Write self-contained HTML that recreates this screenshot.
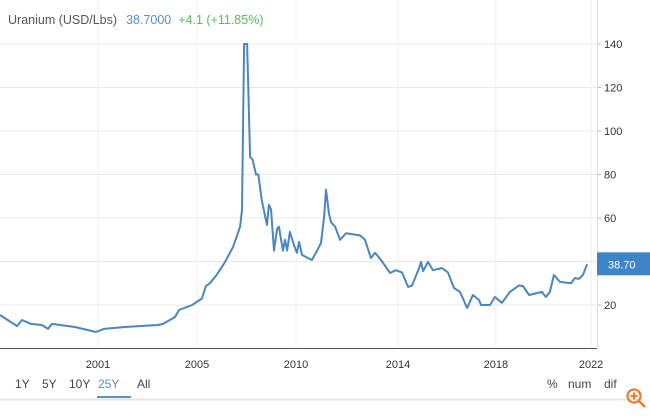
<!DOCTYPE html>
<html><head><meta charset="utf-8"><style>
body{margin:0;background:#fff;font-family:"Liberation Sans",Arial,sans-serif;}
#wrap{position:relative;width:650px;height:416px;overflow:hidden;}
svg text{font-family:"Liberation Sans",Arial,sans-serif;}
</style></head><body>
<div id="wrap">
<svg id="chart" width="650" height="416"></svg>
</div>
<script>
const years=[1996.81,1997.54,1997.75,1998.13,1998.6,1998.86,1999.03,2000.01,2000.91,2001.25,2002.15,2003.56,2003.78,2004.29,2004.46,2005.02,2005.44,2005.61,2005.78,2006.08,2006.43,2006.77,2007.07,2007.15,2007.24,2007.37,2007.5,2007.6,2007.75,2007.85,2008.0,2008.22,2008.3,2008.39,2008.52,2008.65,2008.73,2008.9,2008.99,2009.08,2009.2,2009.37,2009.5,2009.59,2009.72,2009.97,2010.14,2010.36,2010.53,2010.66,2010.74,2010.87,2010.96,2011.13,2011.34,2011.6,2012.19,2012.41,2012.66,2012.84,2013.09,2013.48,2013.73,2013.99,2014.25,2014.42,2014.72,2014.8,2014.89,2015.1,2015.31,2015.7,2015.95,2016.21,2016.47,2016.77,2017.02,2017.28,2017.37,2017.75,2017.96,2018.26,2018.6,2018.99,2019.16,2019.42,2019.97,2020.14,2020.31,2020.48,2020.74,2021.21,2021.38,2021.55,2021.72,2021.9];
const prices=[15.4,10.3,13.1,11.3,10.8,9,11.3,9.9,7.6,9,9.9,10.8,11.3,14.5,17.7,20,23,28.7,30,34,39.8,46.7,56,63.7,140,140,88,87,80,80,68,56.8,66,64,45,55,56,45,50,45,53.6,47.6,44,49,43,41.6,40.7,45,48.5,60.5,73,62,58,56,50,53,52,50,41.6,44,40.7,34.7,36,35,28.3,29,37,39.8,35.6,39.8,36,37,35,27.8,26,18.6,24.6,22.3,20,20,23.7,21,26,29,28.7,24.6,26,23.7,26,33.8,30.6,30,32.4,32,33.8,38.7];
const yTicks=[20,40,60,80,100,120,140];
const yTickLabels=["20","","60","80","100","120","140"];
const xTickYears=[2001.0,2005.23,2009.46,2013.82,2018.0,2022.07];
const xTickLabels=["2001","2005","2010","2014","2018","2022"];
const lastLabel="38.70";

const NS="http://www.w3.org/2000/svg";
const svg=document.getElementById('chart');
const xs=t=>(t-1996.81)*23.4;
const ys=v=>305-(v-20)*2.175;
function el(tag,attrs,parent){const e=document.createElementNS(NS,tag);for(const k in attrs)e.setAttribute(k,attrs[k]);(parent||svg).appendChild(e);return e;}

yTicks.forEach((v,i)=>{
  const g=el('line',{x1:0,x2:597,y1:ys(v),y2:ys(v),stroke:'#e8e8e8','stroke-width':1});
  
  
  const tk=el('line',{x1:597,x2:601,y1:ys(v),y2:ys(v),stroke:'#bbb'});
  
  
  if(yTickLabels[i]){
    const t=el('text',{x:604,y:ys(v)+4,'font-size':11,fill:'#333'});
    t.textContent=yTickLabels[i];
    
    
  }
});
xTickYears.forEach((yr,i)=>{
  const x=xs(yr);
  const g=el('line',{x1:x,x2:x,y1:0,y2:348,stroke:'#efefef'});
  
  
  const t=el('text',{x:x,y:368,'font-size':11,fill:'#333','text-anchor':'middle'});
  t.textContent=xTickLabels[i];
  
  
});
const ra=el('line',{x1:597.5,x2:597.5,y1:0,y2:348,stroke:'#e0e0e0'});


const xa=el('line',{x1:0,x2:597,y1:348.5,y2:348.5,stroke:'#555','stroke-width':1});



let d='';
years.forEach((t,i)=>{d+=(i?'L':'M')+xs(t).toFixed(1)+','+ys(prices[i]).toFixed(1);});
const line=el('path',{d:d,fill:'none',stroke:'#4a86c0','stroke-width':2,'stroke-linejoin':'round'});



const lv=prices[prices.length-1];
const b=el('rect',{x:597,y:ys(lv)-12,width:53,height:23,fill:'#3d85c6'});


const bt=el('text',{x:608,y:ys(lv)+4,'font-size':11,fill:'#fff'});
bt.textContent=lastLabel;



const ti=el('text',{x:8,y:24,'font-size':12.5});


ti.innerHTML='<tspan fill="#555">Uranium (USD/Lbs)</tspan><tspan dx="9" fill="#5b8fc9">38.7000</tspan><tspan dx="7" fill="#5cb85c">+4.1 (+11.85%)</tspan>';

const btns=[["1Y",15],["5Y",42],["10Y",69],["25Y",98],["All",137]];
btns.forEach(([l,x])=>{
  const t=el('text',{x:x,y:388,'font-size':12,fill:l==="25Y"?'#5b8fc9':'#444'});
  t.textContent=l;
  
  
});
const ul=el('rect',{x:97,y:396,width:34,height:2,fill:'#5b8fc9'});


[["%",547],["num",568],["dif",604]].forEach(([l,x])=>{
  const t=el('text',{x:x,y:388,'font-size':12,fill:'#444'});
  t.textContent=l;
  
  
});
const bl=el('line',{x1:0,x2:640,y1:399.5,y2:399.5,stroke:'#e6e6e6','stroke-width':2});


const zg=el('g',{});


el('circle',{cx:634,cy:396,r:6.5,fill:'none',stroke:'#f07a30','stroke-width':2.2},zg);
el('line',{x1:639,y1:401,x2:645,y2:407,stroke:'#f07a30','stroke-width':2.5},zg);
el('line',{x1:630.5,y1:396,x2:637.5,y2:396,stroke:'#f07a30','stroke-width':2},zg);
el('line',{x1:634,y1:392.5,x2:634,y2:399.5,stroke:'#f07a30','stroke-width':2},zg);
</script>
</body></html>
